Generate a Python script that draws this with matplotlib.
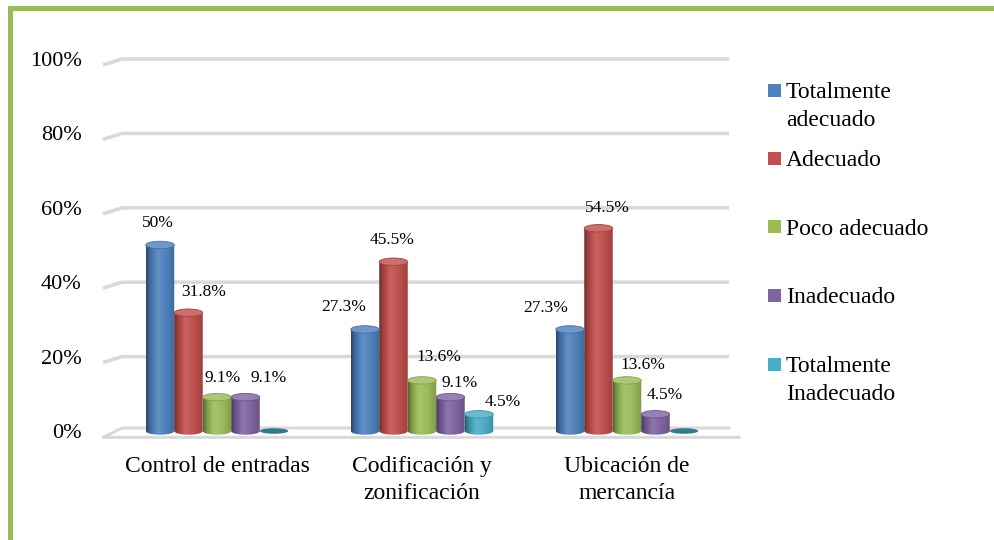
import numpy as np
import matplotlib
matplotlib.use('Agg')
import matplotlib.pyplot as plt
import matplotlib.colors as mcolors
from matplotlib.patches import Ellipse, PathPatch, Rectangle
from matplotlib.path import Path
from matplotlib.lines import Line2D

plt.rcParams['font.family'] = ['Liberation Serif', 'DejaVu Serif']

# datos
categories = ['Control de entradas', 'Codificación y\nzonificación', 'Ubicación de\nmercancía']
series_names = ['Totalmente\nadecuado', 'Adecuado', 'Poco adecuado', 'Inadecuado', 'Totalmente\nInadecuado']
totalmente_adecuado = [50.0, 27.3, 27.3]
adecuado = [31.8, 45.5, 54.5]
poco_adecuado = [9.1, 13.6, 13.6]
inadecuado = [9.1, 9.1, 4.5]
totalmente_inadecuado = [0.0, 4.5, 0.0]
y_ticks = [0, 20, 40, 60, 80, 100]

series_values = [totalmente_adecuado, adecuado, poco_adecuado, inadecuado, totalmente_inadecuado]
colors = ['#4F81BD', '#C0504D', '#9BBB59', '#8064A2', '#4BACC6']

# desplazamiento de las etiquetas (px): horizontal y altura sobre la barra
label_dx = [[-2, -21, -24], [15, -1, 9], [6, 17, 16], [23, 9, 9], [0, 24, 0]]
label_dy = [[22, 22, 21], [21, 22, 20], [19, 23, 15], [19, 14, 19], [0, 12, 0]]

W, H, DPI = 994, 540, 100
fig = plt.figure(figsize=(W / DPI, H / DPI), dpi=DPI)

# geometria del area de graficos (px)
x_left, x_right = 122, 729
y_zero, px_per_pct = 431, 3.72
group_px, group0_px = 205, 217
y_lo, y_hi = -4, 101

ax = fig.add_axes([x_left / W,
                   (H - (y_zero - y_lo * px_per_pct)) / H,
                   (x_right - x_left) / W,
                   (y_hi - y_lo) * px_per_pct / H])
xmin = (x_left - group0_px) / group_px
xmax = (x_right - group0_px) / group_px
ax.set_xlim(xmin, xmax)
ax.set_ylim(y_lo, y_hi)
for s in ax.spines.values():
    s.set_visible(False)

# lineas de division con el pequeño quiebre en perspectiva
grid_c = '#D9D9D9'
slant_x = (103 - group0_px) / group_px
for yv in y_ticks[1:]:
    ax.plot([slant_x, xmin, xmax], [yv - 1.6, yv, yv], color=grid_c, lw=2.6,
            solid_capstyle='butt', solid_joinstyle='miter', zorder=1, clip_on=False)
# piso
ax.plot([xmax, xmin, slant_x, (739 - group0_px) / group_px], [0.8, 0.8, -1.7, -1.7],
        color=grid_c, lw=2.2, zorder=1, clip_on=False)

bar_w = 28.5 / group_px
ell_h = 2.0
t = np.linspace(np.pi, 2 * np.pi, 40)
shade_pos = [0.0, 0.12, 0.4, 0.7, 1.0]
shade_val = [0.55, 0.8, 1.12, 1.0, 0.82]


def shaded(rgb, k):
    if k <= 1:
        return rgb * k
    return rgb + (1 - rgb) * (k - 1)


def cylinder(xc, h, color):
    rgb = np.array(mcolors.to_rgb(color))
    x0, x1 = xc - bar_w / 2, xc + bar_w / 2
    if h <= 0:
        ax.add_patch(Ellipse((xc, 0), bar_w, ell_h * 0.75, facecolor=shaded(rgb, 0.7),
                             edgecolor='none', zorder=3))
        return
    bottom = np.column_stack([xc + bar_w / 2 * np.cos(t), ell_h / 2 * np.sin(t)])
    verts = np.vstack([[x0, h], bottom, [x1, h], [x0, h]])
    codes = [Path.MOVETO] + [Path.LINETO] * (len(verts) - 2) + [Path.CLOSEPOLY]
    clip = PathPatch(Path(verts, codes), facecolor='none', edgecolor='none',
                     transform=ax.transData)
    ax.add_patch(clip)
    s = np.linspace(0, 1, 64)
    k = np.interp(s, shade_pos, shade_val)
    img = np.array([shaded(rgb, kk) for kk in k])[None, :, :]
    im = ax.imshow(img, extent=[x0, x1, -ell_h / 2, h], aspect='auto',
                   interpolation='bilinear', zorder=3)
    im.set_clip_path(clip)
    ax.add_patch(Ellipse((xc, h), bar_w, ell_h, facecolor=shaded(rgb, 1.18),
                         edgecolor=shaded(rgb, 0.85), lw=0.6, zorder=4))


n_series = len(series_values)
for si, vals in enumerate(series_values):
    for gi, v in enumerate(vals):
        xc = gi + (si - (n_series - 1) / 2) * bar_w
        cylinder(xc, v, colors[si])
        if v > 0:
            txt = f'{v:.0f}%' if float(v).is_integer() else f'{v:.1f}%'
            ax.annotate(txt, (xc, v), xytext=(label_dx[si][gi] * 0.72, label_dy[si][gi] * 0.72),
                        textcoords='offset points', ha='center', va='center',
                        fontsize=12.5, color='#000000', zorder=6)

ax.set_xlim(xmin, xmax)
ax.set_ylim(y_lo, y_hi)
ax.set_yticks(y_ticks)
ax.set_yticklabels([f'{v}%' for v in y_ticks])
ax.set_xticks(range(len(categories)))
ax.set_xticklabels(categories, linespacing=1.42)
ax.tick_params(axis='y', length=0, pad=29, labelsize=16)
ax.tick_params(axis='x', length=0, pad=7, labelsize=17)

# leyenda
leg_y = [90, 158, 227, 295, 364]
for name, c, yc in zip(series_names, colors, leg_y):
    fig.add_artist(Rectangle((768 / W, 1 - (yc + 6.5) / H), 13 / W, 13 / H,
                             facecolor=c, edgecolor='none', transform=fig.transFigure))
    for li, line in enumerate(name.split('\n')):
        fig.text(786 / W, 1 - (yc + 8 + 28 * li) / H, line, fontsize=17,
                 ha='left', va='baseline')

# borde verde
border = '#9BBB59'
fig.add_artist(Line2D([9.5 / W, 9.5 / W], [0, 1 - 6 / H], color=border, lw=3.6,
                      transform=fig.transFigure, solid_capstyle='butt'))
fig.add_artist(Line2D([7.5 / W, 1], [1 - 8 / H, 1 - 8 / H], color=border, lw=3.6,
                      transform=fig.transFigure, solid_capstyle='butt'))

fig.savefig('out.png', dpi=DPI)
